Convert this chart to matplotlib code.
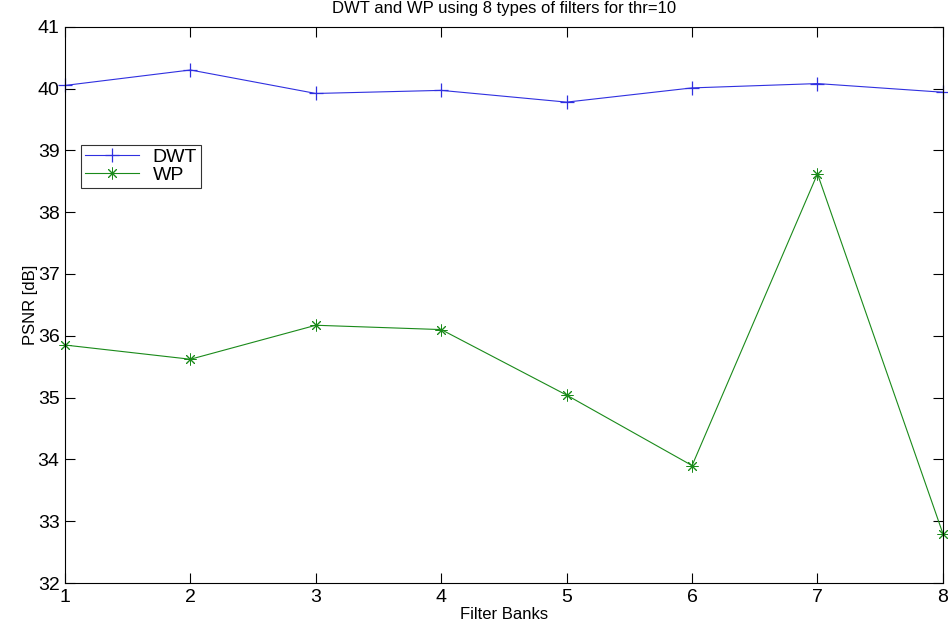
import matplotlib
matplotlib.use("Agg")
import matplotlib.pyplot as plt

plt.rcParams["font.family"] = ["Liberation Sans", "DejaVu Sans"]

filter_banks = [1, 2, 3, 4, 5, 6, 7, 8]
psnr_dwt = [40.05, 40.30, 39.92, 39.97, 39.78, 40.01, 40.08, 39.94]
psnr_wp = [35.85, 35.62, 36.17, 36.10, 35.04, 33.90, 38.62, 32.80]

fig = plt.figure(figsize=(9.48, 6.3), dpi=100)
ax = fig.add_axes([0.0686, 0.0746, 0.926, 0.883])

# MATLAB-style '+' and '*' markers
ax.plot(filter_banks, psnr_dwt, color="#3030e0", linewidth=0.8, marker="+",
        markersize=10, markeredgewidth=0.9, label="DWT", clip_on=False)
ax.plot(filter_banks, psnr_wp, color="#1a8a1a", linewidth=0.8, marker=(8, 2, 0),
        markersize=8.5, markeredgewidth=0.7, label="WP", clip_on=False)

ax.set_xlim(1, 8)
ax.set_ylim(32, 41)
ax.set_xticks(filter_banks)
ax.set_yticks(range(32, 42))
ax.tick_params(direction="in", length=7, width=0.8, top=True, right=True,
               labelsize=14, pad=4)
for spine in ax.spines.values():
    spine.set_linewidth(0.8)

ax.set_title("DWT and WP using 8 types of filters for thr=10", fontsize=12, pad=10)
ax.set_xlabel("Filter Banks", fontsize=12, labelpad=1)
ax.set_ylabel("PSNR [dB]", fontsize=12, labelpad=0)

leg = ax.legend(loc="upper left", bbox_to_anchor=(0.018, 0.788), borderaxespad=0,
                fancybox=False, edgecolor="black", fontsize=14, handlelength=2.8,
                labelspacing=0.0, borderpad=0.2, handletextpad=0.7)
leg.get_frame().set_linewidth(0.8)

fig.savefig("out.png", dpi=100)
